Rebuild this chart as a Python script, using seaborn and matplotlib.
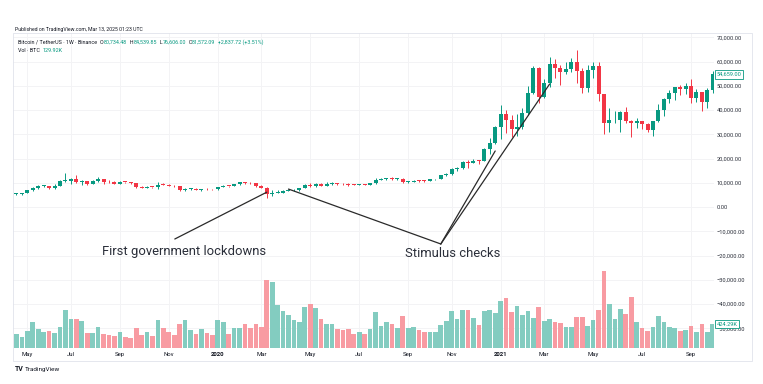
"""
Bitcoin weekly candles (Binance BTCUSDT) with volume, TradingView style.
"""

import matplotlib

matplotlib.use("Agg")
import matplotlib.pyplot as plt
import matplotlib.transforms as mtransforms
from matplotlib.patches import Rectangle
import numpy as np
import pandas as pd
import seaborn as sns

# weekly bars, week of 2019-04-22 .. week of 2021-10-04
weeks = pd.date_range("2019-04-22", periods=129, freq="7D")

opens = [
    5270, 5300, 5700, 6980, 8000, 8700, 8730, 7950, 8860, 10700, 10800, 11450, 10200,
    10550, 9500, 10800, 11400, 10300, 10130, 9600, 10400, 10300, 10050, 8050, 7850,
    8300, 8200, 9250, 9200, 8800, 8500, 7050, 7400, 7510, 7080, 7500, 7300, 7250, 8100,
    8700, 8600, 9350, 10150, 9900, 9700, 8550, 8030, 5360, 5830, 5880, 6770, 6910, 7120,
    7690, 8900, 8720, 9680, 8720, 9450, 9700, 9390, 9300, 9000, 8980, 9250, 9200, 9700,
    11100, 11600, 11900, 11650, 11680, 10250, 10330, 10920, 10770, 10660, 11380, 11500,
    13030, 13760, 15480, 15960, 18400, 18180, 19150, 19140, 23750, 26450, 33000, 38150,
    35800, 32260, 33090, 38900, 47170, 57410, 45240, 50970, 59020, 57350, 55800, 57060,
    59770, 56150, 49070, 56600, 58230, 46400, 34700, 35680, 35800, 39100, 35500, 34700,
    35290, 34260, 31780, 35400, 39850, 44600, 47000, 49300, 48830, 49910, 45000, 47260,
    43160, 48200,
]
highs = [
    5630, 5900, 7050, 8300, 8950, 9070, 8800, 9350, 11200, 13970, 12000, 13130, 11100,
    10650, 10950, 12300, 11450, 10950, 10600, 10900, 10450, 10350, 10100, 8500, 8700,
    8420, 10500, 9950, 9500, 8900, 8520, 7830, 7750, 7640, 7520, 7700, 7450, 8450, 9200,
    8800, 9600, 10200, 10500, 10250, 9950, 9200, 8200, 6950, 6980, 7200, 7470, 7300, 7800,
    9470, 10070, 9900, 9840, 10430, 10380, 10000, 9800, 9800, 9300, 9450, 9300, 9800,
    12100, 12000, 12100, 12490, 11780, 12090, 10580, 11180, 10990, 10950, 11490, 11740,
    13350, 14100, 15960, 16480, 18800, 19420, 19900, 19420, 24300, 28400, 33300, 41950,
    40100, 37850, 38550, 40950, 49700, 58350, 57550, 52640, 61840, 61180, 58420, 60000,
    61300, 64850, 57500, 58450, 59600, 59590, 46650, 40900, 39480, 39500, 41330, 35750,
    36600, 35300, 34680, 35400, 42600, 44800, 48150, 49380, 50500, 51000, 52950, 48850,
    47360, 49130, 56100,
]
lows = [
    5030, 5150, 5600, 6600, 7500, 8400, 7450, 7500, 8850, 10300, 9600, 10100, 9070,
    9100, 9400, 10500, 9450, 9850, 9320, 9500, 9900, 9600, 7700, 7700, 7780, 7900, 7300,
    8980, 8680, 8350, 6800, 6520, 7150, 6980, 6430, 7100, 6850, 7150, 8050, 8250, 8500,
    9150, 9650, 9300, 8450, 7650, 3780, 4440, 5700, 5860, 6750, 6470, 6800, 7650, 8120,
    8110, 8700, 8630, 9270, 8900, 9200, 8830, 8900, 8950, 9000, 9040, 9640, 10950, 11150,
    11270, 11140, 9880, 9870, 10270, 10140, 10370, 10540, 11210, 11420, 12900, 13200,
    14800, 15800, 16200, 18000, 17570, 19000, 21800, 26000, 28130, 30400, 28850, 29240,
    32300, 37990, 46600, 43000, 44950, 49300, 53270, 50430, 54700, 55470, 51000, 47000,
    47500, 53050, 43820, 30000, 31000, 34800, 31000, 34800, 28800, 32700, 32080, 31020,
    29280, 35200, 37330, 42800, 43950, 46370, 46500, 42850, 43370, 39600, 40750, 46900,
]
closes = [
    5300, 5700, 6980, 8000, 8700, 8730, 7950, 8860, 10700, 10800, 11450, 10200, 10550,
    9500, 10800, 11400, 10300, 10130, 9600, 10400, 10300, 10050, 8050, 7850, 8300, 8200,
    9250, 9200, 8800, 8500, 7050, 7400, 7510, 7080, 7500, 7300, 7250, 8100, 8700, 8600,
    9350, 10150, 9900, 9700, 8550, 8030, 5360, 5830, 5880, 6770, 6910, 7120, 7690, 8900,
    8720, 9680, 8720, 9450, 9700, 9390, 9300, 9000, 8980, 9250, 9200, 9700, 11100, 11600,
    11900, 11650, 11680, 10250, 10330, 10920, 10770, 10660, 11380, 11500, 13030, 13760,
    15480, 15960, 18400, 18180, 19150, 19140, 23750, 26450, 33000, 38150, 35800, 32260,
    33090, 38900, 47170, 57410, 45240, 50970, 59020, 57350, 55800, 57060, 59770, 56150,
    49070, 56600, 58230, 46400, 34700, 35680, 35800, 39100, 35500, 34700, 35290, 34260,
    31780, 35400, 39850, 44600, 47000, 49300, 48830, 49910, 45000, 47260, 43160, 48200,
    54659,
]
# weekly volume, thousand BTC
volume_k = [
    247, 189, 306, 454, 336, 289, 295, 271, 377, 678, 513, 507, 477, 271, 265, 371, 247,
    224, 206, 277, 200, 183, 359, 236, 277, 218, 501, 354, 289, 236, 424, 495, 324, 253,
    336, 265, 236, 495, 466, 253, 359, 359, 424, 354, 418, 377, 1208, 1167, 766, 654,
    583, 495, 466, 731, 778, 713, 513, 424, 424, 336, 318, 336, 242, 289, 247, 342, 631,
    395, 454, 424, 348, 572, 359, 371, 318, 283, 283, 277, 407, 477, 654, 519, 678, 672,
    530, 413, 648, 678, 625, 837, 878, 631, 743, 578, 654, 530, 731, 483, 513, 466, 442,
    365, 371, 542, 548, 395, 495, 678, 1367, 778, 519, 684, 607, 896, 460, 348, 301, 377,
    560, 460, 365, 354, 295, 324, 389, 289, 424, 289, 424,
]

price_ticks = list(range(-50000, 70001, 10000))

# annotation targets: (week, price) the lines point at
lockdown_targets = [("2020-03-09", 6100)]
stimulus_targets = [("2020-04-06", 7400), ("2020-12-28", 23100), ("2021-03-08", 50700)]

GREEN = "#089981"
RED = "#f23645"
VOL_UP = "#83ccc0"
VOL_DN = "#f89ba2"
TXT = "#131722"
GRID = "#f3f3f5"

W, H = 763, 384


def fx(px):
    return px / W


def fy(py):
    return 1 - py / H


sns.set_theme(style="white")
plt.rcParams["font.family"] = ["Roboto", "DejaVu Sans"]

fig = plt.figure(figsize=(W / 100, H / 100), dpi=100)
fig.patch.set_facecolor("white")
ax = fig.add_axes([fx(13), fy(348), fx(714) - fx(13), fy(33) - fy(348)])
ax2 = ax.twinx()

pos = np.arange(len(weeks))
o = np.array(opens)
c = np.array(closes)
up = c >= o
colors = np.where(up, GREEN, RED)

# volume
vol_df = pd.DataFrame({"pos": pos, "vol": volume_k, "dir": np.where(up, "up", "down")})
sns.barplot(
    data=vol_df, x="pos", y="vol", hue="dir",
    palette={"up": VOL_UP, "down": VOL_DN},
    native_scale=True, dodge=False, width=0.86, errorbar=None,
    legend=False, saturation=1, linewidth=0, ax=ax2,
)
ax2.set_ylim(0, 5569)
ax2.set_yticks([])
ax2.set_ylabel("")
ax2.set_xlabel("")
for s in ax2.spines.values():
    s.set_visible(False)

# candles
ax.vlines(pos, lows, highs, colors=colors, lw=0.7, zorder=2)
body = np.maximum(np.abs(c - o), 300)
ax.bar(pos, body, bottom=np.minimum(o, c), width=0.74, color=colors, lw=0, zorder=3)

ax.set_ylim(-58144, 71753)
ax.set_xlim(-0.64, 128.22)

# month ticks
tick_pos, tick_lab = [], []
for i, d in enumerate(weeks):
    if i > 0 and d.month != weeks[i - 1].month and d.month % 2 == 1:
        tick_pos.append(i)
        tick_lab.append(str(d.year) if d.month == 1 else d.strftime("%b"))
ax.set_xticks(tick_pos)
ax.set_xticklabels(tick_lab)
for t in ax.get_xticklabels():
    t.set_fontsize(4.3)
    t.set_color(TXT)
    if t.get_text().isdigit():
        t.set_fontweight("bold")
ax.tick_params(axis="x", length=0, pad=3)

ax.yaxis.tick_right()
ax.set_yticks(price_ticks)
ax.set_yticklabels([f"{v:,.2f}".replace("-", "\u2212") for v in price_ticks])
ax.tick_params(axis="y", length=0, pad=2, labelsize=4.1, labelcolor="#2a2e39")
ax.grid(True, color=GRID, lw=0.7)
ax.set_axisbelow(True)
for s in ax.spines.values():
    s.set_visible(False)

# annotations
line_kw = dict(color="#2a2a2a", lw=0.9, zorder=4)
for d, p in lockdown_targets:
    ax.plot([29.1, weeks.get_loc(pd.Timestamp(d))], [-13200, p], **line_kw)
for d, p in stimulus_targets:
    ax.plot([78.0, weeks.get_loc(pd.Timestamp(d))], [-15250, p], **line_kw)
ax.text(15.66, -18144, "First government lockdowns", fontsize=9.4, color="#2a2e39",
        ha="left", va="center")
ax.text(71.4, -19381, "Stimulus checks", fontsize=9.4, color="#2a2e39",
        ha="left", va="center")

# last value labels
tr = mtransforms.blended_transform_factory(ax.transAxes, ax.transData)
ax.text(1.004, closes[-1], f"{closes[-1]:,.2f}", transform=tr, fontsize=4.1,
        color=GREEN, ha="left", va="center", zorder=6,
        bbox=dict(boxstyle="square,pad=0.3", fc="white", ec=GREEN, lw=0.6))
tr2 = mtransforms.blended_transform_factory(ax2.transAxes, ax2.transData)
ax2.text(1.004, volume_k[-1], "424.29K", transform=tr2, fontsize=4.1,
         color=GREEN, ha="left", va="center", zorder=6, clip_on=False,
         bbox=dict(boxstyle="square,pad=0.3", fc="white", ec=GREEN, lw=0.6))

# chart frame
fig.patches.append(Rectangle((fx(13), fy(361)), fx(752) - fx(13), fy(33) - fy(361),
                             transform=fig.transFigure, fill=False, ec="#e0e3eb", lw=0.6))

renderer = fig.canvas.get_renderer()


def text_row(x_px, y_px, parts, size):
    for s, col in parts:
        t = fig.text(fx(x_px), fy(y_px), s, color=col, fontsize=size, ha="left", va="center")
        x_px += t.get_window_extent(renderer).width


text_row(15, 29, [("Published on TradingView.com, Mar 13, 2025 01:23 UTC", TXT)], 3.7)
text_row(18, 42, [
    ("Bitcoin / TetherUS \u00b7 1W \u00b7 Binance  ", TXT),
    ("O", TXT), ("80,734.48", GREEN), ("  H", TXT), ("84,539.85", GREEN),
    ("  L", TXT), ("76,606.00", GREEN), ("  C", TXT), ("81,572.09", GREEN),
    ("  +2,837.72 (+3.51%)", GREEN),
], 3.9)
text_row(18, 51, [("Vol \u00b7 BTC  ", TXT), ("129.92K", GREEN)], 3.9)

fig.text(fx(15), fy(369), "TV", fontsize=5, fontweight="bold", color=TXT, ha="left", va="center")
fig.text(fx(25), fy(369), "TradingView", fontsize=4.6, color=TXT, ha="left", va="center")

fig.savefig("out.png", dpi=100)
